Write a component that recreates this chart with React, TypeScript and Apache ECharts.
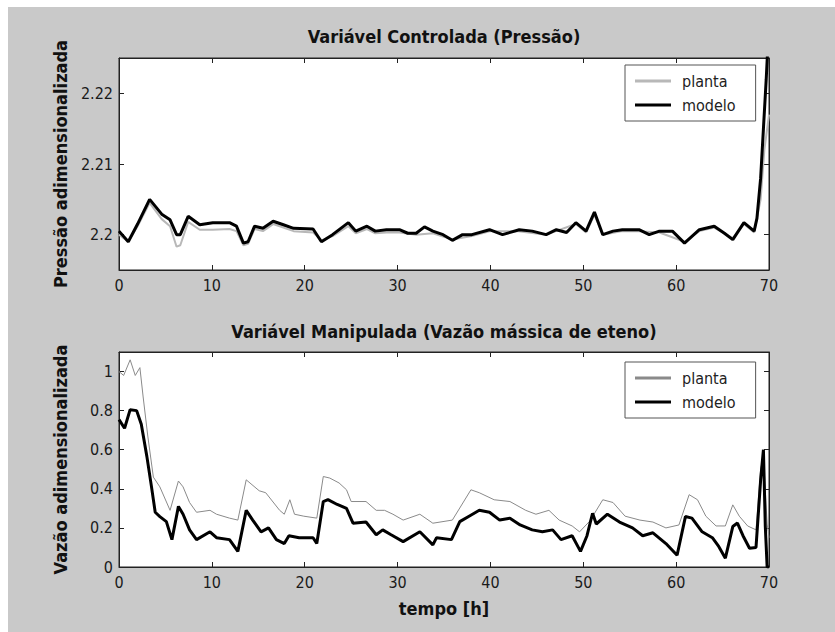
import React, { useEffect, useRef } from "react";
import * as echarts from "echarts";

// ---- Data ----
const xTicks = [0, 10, 20, 30, 40, 50, 60, 70];
const topYTicks = [2.2, 2.21, 2.22];
const botYTicks = [0, 0.2, 0.4, 0.6, 0.8, 1];

const topModeloT = [0, 1, 2, 3.3, 4.6, 5.5, 6.2, 6.6, 7.45, 8.7, 10.1, 11.9, 12.65, 13.4, 13.9, 14.6, 15.5, 16.6, 17.7, 18.8, 20.9, 21.8, 23, 24.7, 25.5, 26.7, 27.6, 28.8, 30.2, 31.1, 32, 32.9, 33.8, 34.9, 35.9, 37, 38, 39.9, 41.3, 43.1, 44.5, 46, 47.1, 48.2, 49.2, 50.3, 51.2, 52.1, 53.2, 54.2, 56, 57.1, 58.2, 59.6, 60.9, 62.5, 64.1, 65.2, 66.1, 67.3, 68.4, 68.7, 69.1, 69.4, 69.7, 70];
const topModeloV = [2.2005, 2.199, 2.2015, 2.205, 2.2029, 2.2021, 2.2, 2.2, 2.2026, 2.2014, 2.2017, 2.2017, 2.2012, 2.1988, 2.199, 2.2012, 2.2009, 2.2019, 2.2014, 2.2009, 2.2008, 2.199, 2.2, 2.2017, 2.2005, 2.2012, 2.2005, 2.2007, 2.2007, 2.2002, 2.2002, 2.2011, 2.2005, 2.2, 2.1992, 2.2, 2.2, 2.2007, 2.2, 2.2007, 2.2005, 2.2, 2.2007, 2.2003, 2.2017, 2.2005, 2.2032, 2.2, 2.2005, 2.2007, 2.2007, 2.2, 2.2005, 2.2005, 2.1988, 2.2007, 2.2012, 2.2002, 2.1993, 2.2017, 2.2005, 2.2023, 2.208, 2.215, 2.222, 2.23];

const topPlantaT = [0, 1, 2, 3.3, 4.6, 5.5, 6.2, 6.6, 7.45, 8.7, 10.1, 11.9, 12.65, 13.4, 13.9, 14.6, 15.5, 16.6, 17.7, 18.8, 20.9, 21.8, 23, 24.7, 25.5, 26.7, 27.6, 28.8, 30.2, 32, 33.8, 35.9, 38, 40, 43, 46, 49.2, 50.3, 51.2, 52.1, 54.2, 56, 58.2, 60.9, 62.5, 64.1, 66.1, 67.3, 68.4, 69.1, 69.5, 70];
const topPlantaV = [2.2, 2.199, 2.2012, 2.2045, 2.2022, 2.2012, 2.1983, 2.1985, 2.2018, 2.2007, 2.2007, 2.2008, 2.2005, 2.1985, 2.1987, 2.2008, 2.2005, 2.2015, 2.201, 2.2005, 2.2003, 2.1992, 2.1998, 2.2012, 2.2002, 2.2008, 2.2002, 2.2003, 2.2003, 2.2, 2.2002, 2.1993, 2.1998, 2.2005, 2.2005, 2.2, 2.2015, 2.2003, 2.2028, 2.2, 2.2005, 2.2005, 2.2003, 2.199, 2.2005, 2.201, 2.1995, 2.2015, 2.2003, 2.205, 2.212, 2.217];

const botModeloT = [0, 0.6, 1.2, 1.9, 2.4, 3.0, 3.5, 3.9, 4.4, 5.1, 5.7, 6.4, 6.9, 7.6, 8.35, 9.8, 10.5, 11.9, 12.8, 13.7, 14.4, 15.3, 16.1, 16.95, 17.8, 18.3, 19.4, 20.9, 21.3, 22.0, 22.5, 23.5, 24.5, 25.2, 26.6, 27.7, 28.4, 29.3, 30.6, 32.4, 33.8, 34.2, 35.8, 36.7, 37.7, 38.8, 39.9, 41, 42.1, 43.2, 44.5, 45.6, 46.7, 47.6, 48.8, 49.7, 50.4, 51, 51.4, 52.6, 53.9, 55.3, 56.4, 57.5, 58.9, 60.1, 61, 61.7, 62.8, 63.9, 64.6, 65.3, 66.1, 66.6, 67.2, 67.9, 68.6, 69.1, 69.4, 69.6, 69.8, 70];
const botModeloV = [0.754, 0.71, 0.805, 0.8, 0.73, 0.566, 0.41, 0.28, 0.258, 0.232, 0.14, 0.31, 0.27, 0.19, 0.14, 0.18, 0.15, 0.14, 0.08, 0.29, 0.24, 0.18, 0.2, 0.14, 0.12, 0.16, 0.15, 0.15, 0.12, 0.335, 0.345, 0.32, 0.3, 0.224, 0.23, 0.165, 0.19, 0.165, 0.13, 0.18, 0.113, 0.15, 0.14, 0.232, 0.26, 0.29, 0.28, 0.24, 0.25, 0.215, 0.19, 0.18, 0.19, 0.14, 0.16, 0.08, 0.16, 0.275, 0.22, 0.27, 0.23, 0.2, 0.16, 0.175, 0.12, 0.06, 0.258, 0.25, 0.18, 0.15, 0.104, 0.045, 0.207, 0.225, 0.16, 0.096, 0.1, 0.446, 0.6, 0.21, 0.0, 0.0];

const botPlantaT = [0, 0.5, 1.2, 1.75, 2.25, 2.6, 3.1, 3.7, 4.4, 5.5, 6.4, 6.9, 7.6, 8.35, 9.8, 10.5, 11.9, 12.8, 13.7, 15.1, 15.8, 17.3, 17.8, 18.4, 18.9, 19.9, 21.3, 22.0, 22.7, 23.7, 24.5, 25, 26.6, 27.7, 28.6, 29.5, 30.6, 32.4, 33.8, 35.9, 37.9, 38.8, 40.4, 42.1, 43.8, 44.9, 46.3, 47.4, 48.8, 49.6, 50.7, 52.1, 53.2, 54.5, 56.1, 57.5, 58.9, 60.3, 61.4, 62.3, 63.2, 64.3, 65.3, 66.1, 66.8, 67.7, 68.6, 69.1, 69.4, 69.8, 70];
const botPlantaV = [1.0, 0.98, 1.06, 0.98, 1.02, 0.87, 0.67, 0.46, 0.41, 0.29, 0.44, 0.41, 0.33, 0.28, 0.29, 0.27, 0.25, 0.24, 0.446, 0.39, 0.38, 0.29, 0.27, 0.344, 0.27, 0.26, 0.25, 0.463, 0.455, 0.43, 0.395, 0.335, 0.335, 0.29, 0.29, 0.27, 0.24, 0.27, 0.224, 0.24, 0.395, 0.38, 0.344, 0.335, 0.29, 0.27, 0.29, 0.24, 0.21, 0.18, 0.235, 0.344, 0.33, 0.26, 0.24, 0.23, 0.2, 0.215, 0.37, 0.344, 0.26, 0.21, 0.21, 0.318, 0.26, 0.21, 0.19, 0.5, 0.57, 0.22, 0.15];

const FONT = "'DejaVu Sans Condensed', 'Liberation Sans', sans-serif";
const AX = "#222";

const zip = (t: number[], v: number[]) => t.map((x, i) => [x, v[i]]);

function xAxisCfg(gridIndex: number, position: "bottom" | "top", labels: boolean, extra: any = {}) {
  return {
    type: "value",
    gridIndex,
    position,
    min: xTicks[0],
    max: xTicks[xTicks.length - 1],
    interval: 10,
    axisLine: { show: true, onZero: false, lineStyle: { color: AX, width: 1 } },
    axisTick: { show: true, inside: true, length: 5, lineStyle: { color: AX } },
    axisLabel: { show: labels, color: "#1a1a1a", fontSize: 16, fontFamily: FONT, margin: 7 },
    splitLine: { show: false },
    ...extra,
  };
}

function yAxisCfg(gridIndex: number, position: "left" | "right", min: number, max: number, ticks: number[], labels: boolean, extra: any = {}) {
  return {
    type: "value",
    gridIndex,
    position,
    min,
    max,
    axisLine: { show: true, onZero: false, lineStyle: { color: AX, width: 1 } },
    axisTick: { show: true, inside: true, length: 5, customValues: ticks, lineStyle: { color: AX } },
    axisLabel: {
      show: labels,
      customValues: ticks,
      color: "#1a1a1a",
      fontSize: 16,
      fontFamily: FONT,
      margin: 6,
      formatter: (v: number) => String(+v.toFixed(3)),
    },
    splitLine: { show: false },
    ...extra,
  };
}

const nameStyle = { fontSize: 18, fontWeight: "bold", color: "#111", fontFamily: FONT };

function legendCfg(top: number, plantaColor: string) {
  return {
    left: 625,
    top,
    orient: "vertical",
    itemWidth: 36,
    itemHeight: 3,
    itemGap: 8,
    padding: [8, 20, 8, 10],
    backgroundColor: "#fff",
    borderColor: "#555",
    borderWidth: 1,
    selectedMode: false,
    textStyle: { fontSize: 16, fontFamily: FONT, color: "#222", padding: [0, 0, 0, 6] },
    data: [
      { name: "planta", icon: "rect", itemStyle: { color: plantaColor, borderWidth: 0 } },
      { name: "modelo", icon: "rect", itemStyle: { color: "#000", borderWidth: 0 } },
    ],
  };
}

export default function App() {
  const ref = useRef<HTMLDivElement>(null);

  useEffect(() => {
    document.body.style.margin = "0";
    if (!ref.current) return;
    const chart = echarts.init(ref.current, null, { renderer: "svg" });
    chart.setOption({
      animation: false,
      backgroundColor: "#c9c9c9",
      graphic: [
        { type: "rect", shape: { x: 0, y: 0, width: 835, height: 7 }, style: { fill: "#fff" } },
        { type: "rect", shape: { x: 0, y: 0, width: 8, height: 632 }, style: { fill: "#fff" } },
        {
          type: "text",
          x: 444,
          y: 36,
          style: { text: "Variável Controlada (Pressão)", fill: "#111", font: `bold 18px ${FONT}`, textAlign: "center", textVerticalAlign: "middle" },
        },
        {
          type: "text",
          x: 444,
          y: 331,
          style: { text: "Variável Manipulada (Vazão mássica de eteno)", fill: "#111", font: `bold 18px ${FONT}`, textAlign: "center", textVerticalAlign: "middle" },
        },
      ],
      grid: [
        { left: 119, top: 58, width: 650, height: 212, show: true, backgroundColor: "#fff", borderWidth: 1, borderColor: AX },
        { left: 119, top: 352, width: 650, height: 215, show: true, backgroundColor: "#fff", borderWidth: 1, borderColor: AX },
      ],
      xAxis: [
        xAxisCfg(0, "bottom", true),
        xAxisCfg(0, "top", false),
        xAxisCfg(1, "bottom", true, { name: "tempo [h]", nameLocation: "middle", nameGap: 32, nameTextStyle: nameStyle }),
        xAxisCfg(1, "top", false),
      ],
      yAxis: [
        yAxisCfg(0, "left", 2.195, 2.225, topYTicks, true, { name: "Pressão adimensionalizada", nameLocation: "middle", nameGap: 50, nameTextStyle: nameStyle }),
        yAxisCfg(0, "right", 2.195, 2.225, topYTicks, false),
        yAxisCfg(1, "left", 0, 1.1, botYTicks, true, { name: "Vazão adimensionalizada", nameLocation: "middle", nameGap: 50, nameTextStyle: nameStyle }),
        yAxisCfg(1, "right", 0, 1.1, botYTicks, false),
      ],
      legend: [legendCfg(65, "#b8b8b8"), legendCfg(362, "#8a8a8a")],
      series: [
        { name: "planta", type: "line", xAxisIndex: 0, yAxisIndex: 0, symbol: "none", data: zip(topPlantaT, topPlantaV), lineStyle: { color: "#b8b8b8", width: 2 }, itemStyle: { color: "#b8b8b8" }, z: 2 },
        { name: "modelo", type: "line", xAxisIndex: 0, yAxisIndex: 0, symbol: "none", data: zip(topModeloT, topModeloV), lineStyle: { color: "#000", width: 3 }, itemStyle: { color: "#000" }, z: 3 },
        { name: "planta", type: "line", xAxisIndex: 2, yAxisIndex: 2, symbol: "none", data: zip(botPlantaT, botPlantaV), lineStyle: { color: "#8a8a8a", width: 1 }, itemStyle: { color: "#8a8a8a" }, z: 2 },
        { name: "modelo", type: "line", xAxisIndex: 2, yAxisIndex: 2, symbol: "none", data: zip(botModeloT, botModeloV), lineStyle: { color: "#000", width: 3 }, itemStyle: { color: "#000" }, z: 3 },
      ],
    });
    return () => chart.dispose();
  }, []);

  return <div ref={ref} style={{ width: 835, height: 632 }} />;
}
